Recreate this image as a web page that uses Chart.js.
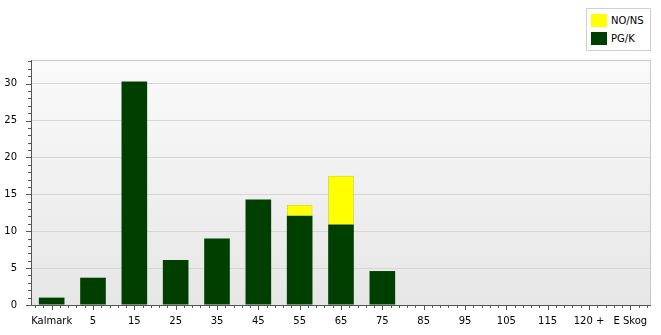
<!DOCTYPE html>
<html>
<head>
<meta charset="utf-8">
<script src="https://cdn.jsdelivr.net/npm/chart.js@4/dist/chart.umd.min.js"></script>
<style>
  body { margin: 0; background: #fff; font-family: "DejaVu Sans", sans-serif; }
  #wrap { position: relative; width: 661px; height: 335px; }
  #legend { position: absolute; left: 586px; top: 8px; width: 63px; height: 41px;
    border: 1px solid #cfcfcf; background: #fff; font-size: 10px; color: #000; }
  .item { position: absolute; left: 4px; height: 14px; line-height: 14px; }
  .box { display: inline-block; width: 16px; height: 13px; vertical-align: top; margin-right: 4px; }
</style>
</head>
<body>
<div id="wrap">
  <canvas id="chart" width="661" height="335"></canvas>
  <div id="legend"></div>
</div>
<script>
const categories = ['Kalmark', '5', '15', '25', '35', '45', '55', '65', '75', '85', '95', '105', '115', '120 +', 'E Skog'];
const pgk = [1.0, 3.7, 30.3, 6.1, 9.0, 14.3, 12.1, 10.9, 4.6, 0, 0, 0, 0, 0, 0];
const nons = [0, 0, 0, 0, 0, 0, 1.5, 6.6, 0, 0, 0, 0, 0, 0, 0];
const yTicks = [0, 5, 10, 15, 20, 25, 30];

const colors = { 'NO/NS': '#ffff00', 'PG/K': '#003f00' };

// legend
const legend = document.getElementById('legend');
['NO/NS', 'PG/K'].forEach(function(name, i) {
  const d = document.createElement('div');
  d.className = 'item';
  d.style.top = (5 + i * 18) + 'px';
  d.innerHTML = '<span class="box" style="background:' + colors[name] + '"></span>' + name;
  legend.appendChild(d);
});

const plotDecor = {
  id: 'plotDecor',
  beforeDraw(chart) {
    const { ctx, chartArea: a } = chart;
    const g = ctx.createLinearGradient(0, a.top, 0, a.bottom);
    g.addColorStop(0, '#fafafa');
    g.addColorStop(1, '#e6e6e6');
    ctx.save();
    ctx.fillStyle = g;
    ctx.fillRect(a.left, a.top, a.right - a.left, a.bottom - a.top);
    ctx.restore();
  },
  afterDraw(chart) {
    const { ctx, chartArea: a, scales } = chart;
    ctx.save();
    ctx.strokeStyle = '#c8c8c8';
    ctx.lineWidth = 1;
    ctx.strokeRect(a.left + 0.5, a.top + 0.5, a.right - a.left - 1, a.bottom - a.top);
    ctx.strokeStyle = '#555';
    ctx.beginPath();
    ctx.moveTo(a.left + 0.5, a.top);
    ctx.lineTo(a.left + 0.5, a.bottom + 0.5);
    ctx.lineTo(a.right, a.bottom + 0.5);
    ctx.stroke();
    // y ticks
    const y = scales.y;
    for (let v = 0; v <= 33; v++) {
      const py = Math.round(y.getPixelForValue(v)) + 0.5;
      const len = v % 5 === 0 ? 5 : 3;
      ctx.beginPath();
      ctx.moveTo(a.left - len, py);
      ctx.lineTo(a.left, py);
      ctx.stroke();
    }
    // x ticks
    const w = (a.right - a.left) / categories.length;
    for (let i = 0; i <= categories.length * 5; i++) {
      const px = Math.round(a.left + w / 2 + (i - 2) * w / 5) + 0.5;
      if (px < a.left || px > a.right) continue;
      const len = (i - 2) % 5 === 0 ? 5 : 3;
      ctx.beginPath();
      ctx.moveTo(px, a.bottom);
      ctx.lineTo(px, a.bottom + len);
      ctx.stroke();
    }
    ctx.restore();
  }
};

new Chart(document.getElementById('chart'), {
  type: 'bar',
  data: {
    labels: categories,
    datasets: [
      { label: 'PG/K', data: pgk, backgroundColor: colors['PG/K'], borderWidth: 0,
        barPercentage: 0.62, categoryPercentage: 1 },
      { label: 'NO/NS', data: nons, backgroundColor: colors['NO/NS'], borderColor: '#d4d400', borderWidth: 1,
        barPercentage: 0.62, categoryPercentage: 1 }
    ]
  },
  options: {
    responsive: false,
    animation: false,
    layout: { padding: { top: 60, right: 10, left: 0, bottom: 0 } },
    plugins: { legend: { display: false }, tooltip: { enabled: false } },
    scales: {
      x: {
        stacked: true,
        afterFit(axis) { axis.height = 30; },
        grid: { display: false, drawTicks: false },
        border: { display: false },
        ticks: { color: '#000', font: { family: 'DejaVu Sans', size: 10 }, padding: 10, maxRotation: 0, autoSkip: false }
      },
      y: {
        stacked: true,
        min: 0,
        max: 33.2,
        afterBuildTicks(axis) { axis.ticks = yTicks.map(v => ({ value: v })); },
        afterFit(axis) { axis.width = 31; },
        grid: { color: '#d6d6d6', drawTicks: false },
        border: { display: false },
        ticks: { color: '#000', font: { family: 'DejaVu Sans', size: 10 }, padding: 14 }
      }
    }
  },
  plugins: [plotDecor]
});
</script>
</body>
</html>
